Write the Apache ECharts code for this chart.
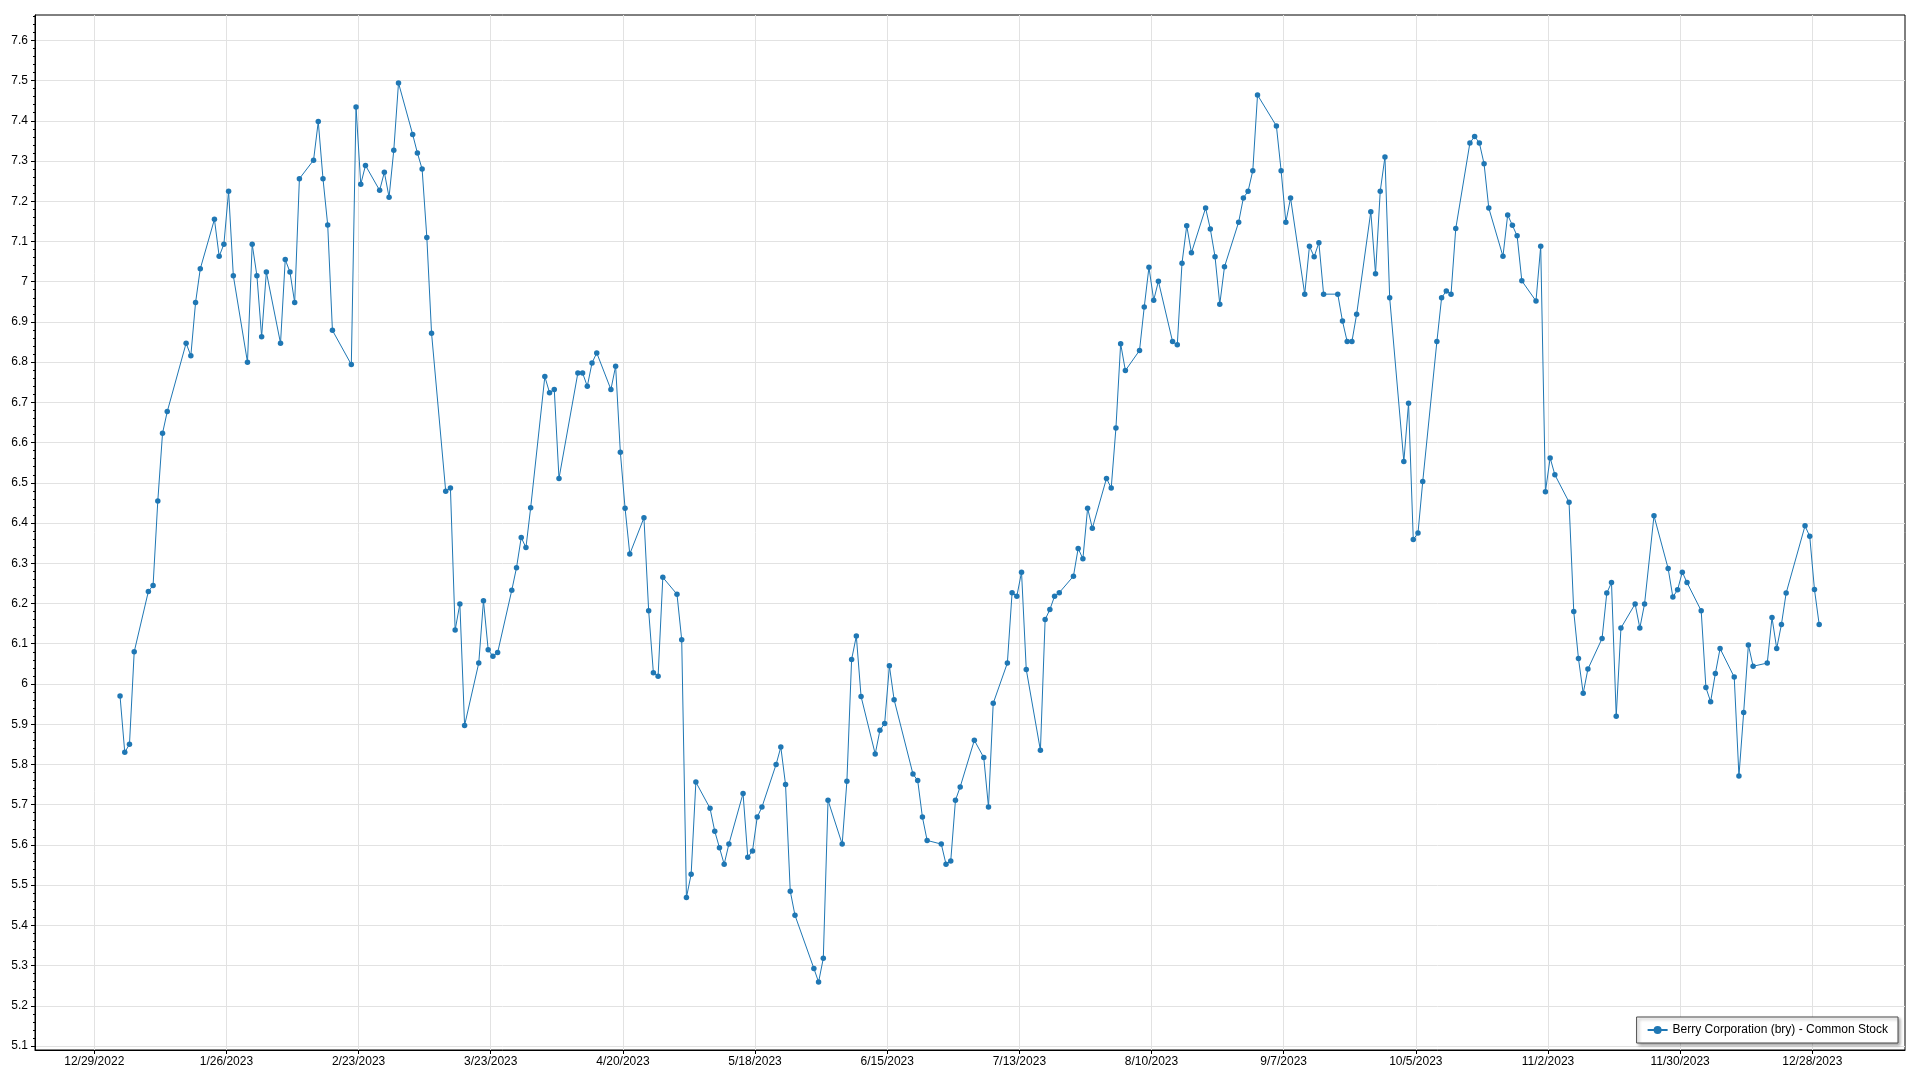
<!DOCTYPE html>
<html>
<head>
<meta charset="utf-8">
<script src="https://cdn.jsdelivr.net/npm/echarts@6/dist/echarts.min.js"></script>
<style>
html,body{margin:0;padding:0;background:#fff;}
#chart{width:1920px;height:1080px;}
</style>
</head>
<body>
<div id="chart"></div>
<script>
const seriesName = 'Berry Corporation (bry) - Common Stock';

// Trading days of 2023 (M/D)
const tradeDays = [
  '1/3','1/4','1/5','1/6','1/9','1/10','1/11','1/12','1/13','1/17','1/18','1/19','1/20','1/23','1/24','1/25','1/26','1/27','1/30','1/31',
  '2/1','2/2','2/3','2/6','2/7','2/8','2/9','2/10','2/13','2/14','2/15','2/16','2/17','2/21','2/22','2/23','2/24','2/27','2/28',
  '3/1','3/2','3/3','3/6','3/7','3/8','3/9','3/10','3/13','3/14','3/15','3/16','3/17','3/20','3/21','3/22','3/23','3/24','3/27','3/28','3/29','3/30','3/31',
  '4/3','4/4','4/5','4/6','4/10','4/11','4/12','4/13','4/14','4/17','4/18','4/19','4/20','4/21','4/24','4/25','4/26','4/27','4/28',
  '5/1','5/2','5/3','5/4','5/5','5/8','5/9','5/10','5/11','5/12','5/15','5/16','5/17','5/18','5/19','5/22','5/23','5/24','5/25','5/26','5/30','5/31',
  '6/1','6/2','6/5','6/6','6/7','6/8','6/9','6/12','6/13','6/14','6/15','6/16','6/20','6/21','6/22','6/23','6/26','6/27','6/28','6/29','6/30',
  '7/3','7/5','7/6','7/7','7/10','7/11','7/12','7/13','7/14','7/17','7/18','7/19','7/20','7/21','7/24','7/25','7/26','7/27','7/28','7/31',
  '8/1','8/2','8/3','8/4','8/7','8/8','8/9','8/10','8/11','8/14','8/15','8/16','8/17','8/18','8/21','8/22','8/23','8/24','8/25','8/28','8/29','8/30','8/31',
  '9/1','9/5','9/6','9/7','9/8','9/11','9/12','9/13','9/14','9/15','9/18','9/19','9/20','9/21','9/22','9/25','9/26','9/27','9/28','9/29',
  '10/2','10/3','10/4','10/5','10/6','10/9','10/10','10/11','10/12','10/13','10/16','10/17','10/18','10/19','10/20','10/23','10/24','10/25','10/26','10/27','10/30','10/31',
  '11/1','11/2','11/3','11/6','11/7','11/8','11/9','11/10','11/13','11/14','11/15','11/16','11/17','11/20','11/21','11/22','11/24','11/27','11/28','11/29','11/30',
  '12/1','12/4','12/5','12/6','12/7','12/8','12/11','12/12','12/13','12/14','12/15','12/18','12/19','12/20','12/21','12/22','12/26','12/27','12/28','12/29'
];

// Closing prices
const closePrices = [
  5.97,5.83,5.85,6.08,6.23,6.245,6.455,6.623,6.677,6.847,6.816,6.948,7.032,7.155,7.063,7.093,7.225,7.015,6.80,7.093,
  7.015,6.863,7.024,6.847,7.055,7.024,6.948,7.256,7.302,7.398,7.256,7.141,6.879,6.794,7.434,7.242,7.289,7.227,7.272,
  7.21,7.327,7.494,7.366,7.32,7.28,7.11,6.872,6.479,6.487,6.134,6.199,5.897,6.052,6.207,6.085,6.069,6.078,6.233,6.289,6.364,6.339,6.438,
  6.764,6.724,6.732,6.511,6.773,6.773,6.74,6.798,6.823,6.732,6.79,6.576,6.437,6.323,6.413,6.182,6.028,6.019,6.265,
  6.223,6.11,5.469,5.527,5.756,5.691,5.634,5.593,5.552,5.602,5.728,5.569,5.585,5.669,5.694,5.80,5.843,5.75,5.485,5.425,5.293,5.259,
  5.318,5.711,5.602,5.758,6.061,6.119,5.969,5.826,5.885,5.902,6.045,5.961,5.776,5.76,5.669,5.611,5.602,5.552,5.56,5.711,5.744,
  5.86,5.817,5.694,5.952,6.052,6.227,6.218,6.278,6.036,5.835,6.16,6.185,6.218,6.227,6.268,6.337,6.311,6.437,6.387,6.511,
  6.487,6.636,6.846,6.779,6.829,6.937,7.036,6.954,7.001,6.851,6.843,7.046,7.139,7.072,7.183,7.131,7.062,6.944,7.037,7.148,7.208,7.225,7.276,
  7.464,7.387,7.276,7.148,7.208,6.969,7.088,7.062,7.097,6.969,6.969,6.902,6.851,6.851,6.919,7.174,7.02,7.225,7.31,6.96,
  6.553,6.698,6.359,6.375,6.503,6.851,6.96,6.977,6.969,7.132,7.345,7.361,7.345,7.293,7.183,7.063,7.166,7.14,7.114,7.002,6.952,7.088,
  6.478,6.562,6.52,6.452,6.18,6.063,5.977,6.037,6.113,6.226,6.252,5.92,6.139,6.199,6.139,6.199,6.418,6.287,6.216,6.234,6.278,
  6.252,6.182,5.991,5.956,6.026,6.088,6.017,5.771,5.929,6.097,6.044,6.052,6.165,6.088,6.148,6.226,6.393,6.367,6.235,6.148
];

// Axis tick labels
const xTickDates = ['12/29/2022','1/26/2023','2/23/2023','3/23/2023','4/20/2023','5/18/2023','6/15/2023',
                    '7/13/2023','8/10/2023','9/7/2023','10/5/2023','11/2/2023','11/30/2023','12/28/2023'];
const yTicks = [5.1,5.2,5.3,5.4,5.5,5.6,5.7,5.8,5.9,6.0,6.1,6.2,6.3,6.4,6.5,6.6,6.7,6.8,6.9,7.0,7.1,7.2,7.3,7.4,7.5,7.6];

const FONT = "'Segoe UI', 'Liberation Sans', Arial, sans-serif";
const DAY = 86400000;
const HOUR = 3600000;
function parseMDY(s, defYear, hours) {
  const p = s.split('/').map(Number);
  return Date.UTC(p.length > 2 ? p[2] : defYear, p[0] - 1, p[1]) + (hours || 0) * HOUR;
}
// data points are stamped at the session time of day (they sit a little right of midnight)
const seriesData = tradeDays.map((d, i) => [parseMDY(d, 2023, 11), closePrices[i]]);
const xTickVals = xTickDates.map(s => parseMDY(s));
const xMin = xTickVals[0] - 12.56 * DAY;
const xMax = xTickVals[0] + 383.64 * DAY;
const yMin = 5.0901, yMax = 7.6629;
const yMinor = [];
for (let k = 0; k < 200; k++) {
  const v = +(5.10 + k * 0.02).toFixed(2);
  if (v > yMax) break;
  yMinor.push(v);
}

const chart = echarts.init(document.getElementById('chart'), null, {renderer: 'canvas'});
chart.setOption({
  animation: false,
  backgroundColor: '#ffffff',
  textStyle: {fontFamily: FONT},
  grid: {left: 35, right: 15, top: 15, bottom: 30, show: true, borderColor: '#000', borderWidth: 1, containLabel: false},
  xAxis: {
    type: 'value', min: xMin, max: xMax,
    axisLine: {show: true, lineStyle: {color: '#000', width: 1}},
    axisTick: {show: true, customValues: xTickVals, length: 4, lineStyle: {color: '#000'}},
    axisLabel: {
      customValues: xTickVals, color: '#000', fontSize: 12, margin: 6, fontFamily: FONT, hideOverlap: false,
      formatter: v => { const d = new Date(v); return (d.getUTCMonth() + 1) + '/' + d.getUTCDate() + '/' + d.getUTCFullYear(); }
    },
    splitLine: {show: true, lineStyle: {color: '#e2e2e2', width: 1}}
  },
  yAxis: [
    {
      type: 'value', min: yMin, max: yMax,
      axisLine: {show: true, lineStyle: {color: '#000', width: 1}},
      axisTick: {show: true, customValues: yTicks, length: 4, lineStyle: {color: '#000'}},
      axisLabel: {customValues: yTicks, color: '#000', fontSize: 12, margin: 7, fontFamily: FONT,
        formatter: v => String(+(+v).toFixed(1))},
      splitLine: {show: true, lineStyle: {color: '#e2e2e2', width: 1}}
    },
    {
      type: 'value', min: yMin, max: yMax, position: 'left',
      axisLine: {show: false}, axisLabel: {show: false}, splitLine: {show: false},
      axisTick: {show: true, customValues: yMinor, length: 2, lineStyle: {color: '#000'}}
    }
  ],
  legend: {
    right: 22, bottom: 37,
    backgroundColor: '#fff', borderColor: '#4a4a4a', borderWidth: 1,
    padding: [7, 10, 7, 10], itemWidth: 20, itemHeight: 10, itemGap: 5,
    textStyle: {fontSize: 12, color: '#000', fontFamily: FONT},
    shadowColor: 'rgba(0,0,0,0.35)', shadowBlur: 3, shadowOffsetX: 2, shadowOffsetY: 2,
    data: [seriesName]
  },
  series: [{
    name: seriesName, type: 'line', yAxisIndex: 0, data: seriesData,
    symbol: 'circle', symbolSize: 5.5, showSymbol: true, showAllSymbol: true,
    itemStyle: {color: '#1f77b4'},
    lineStyle: {color: '#1f77b4', width: 1},
    emphasis: {disabled: true}
  }]
});
</script>
</body>
</html>
